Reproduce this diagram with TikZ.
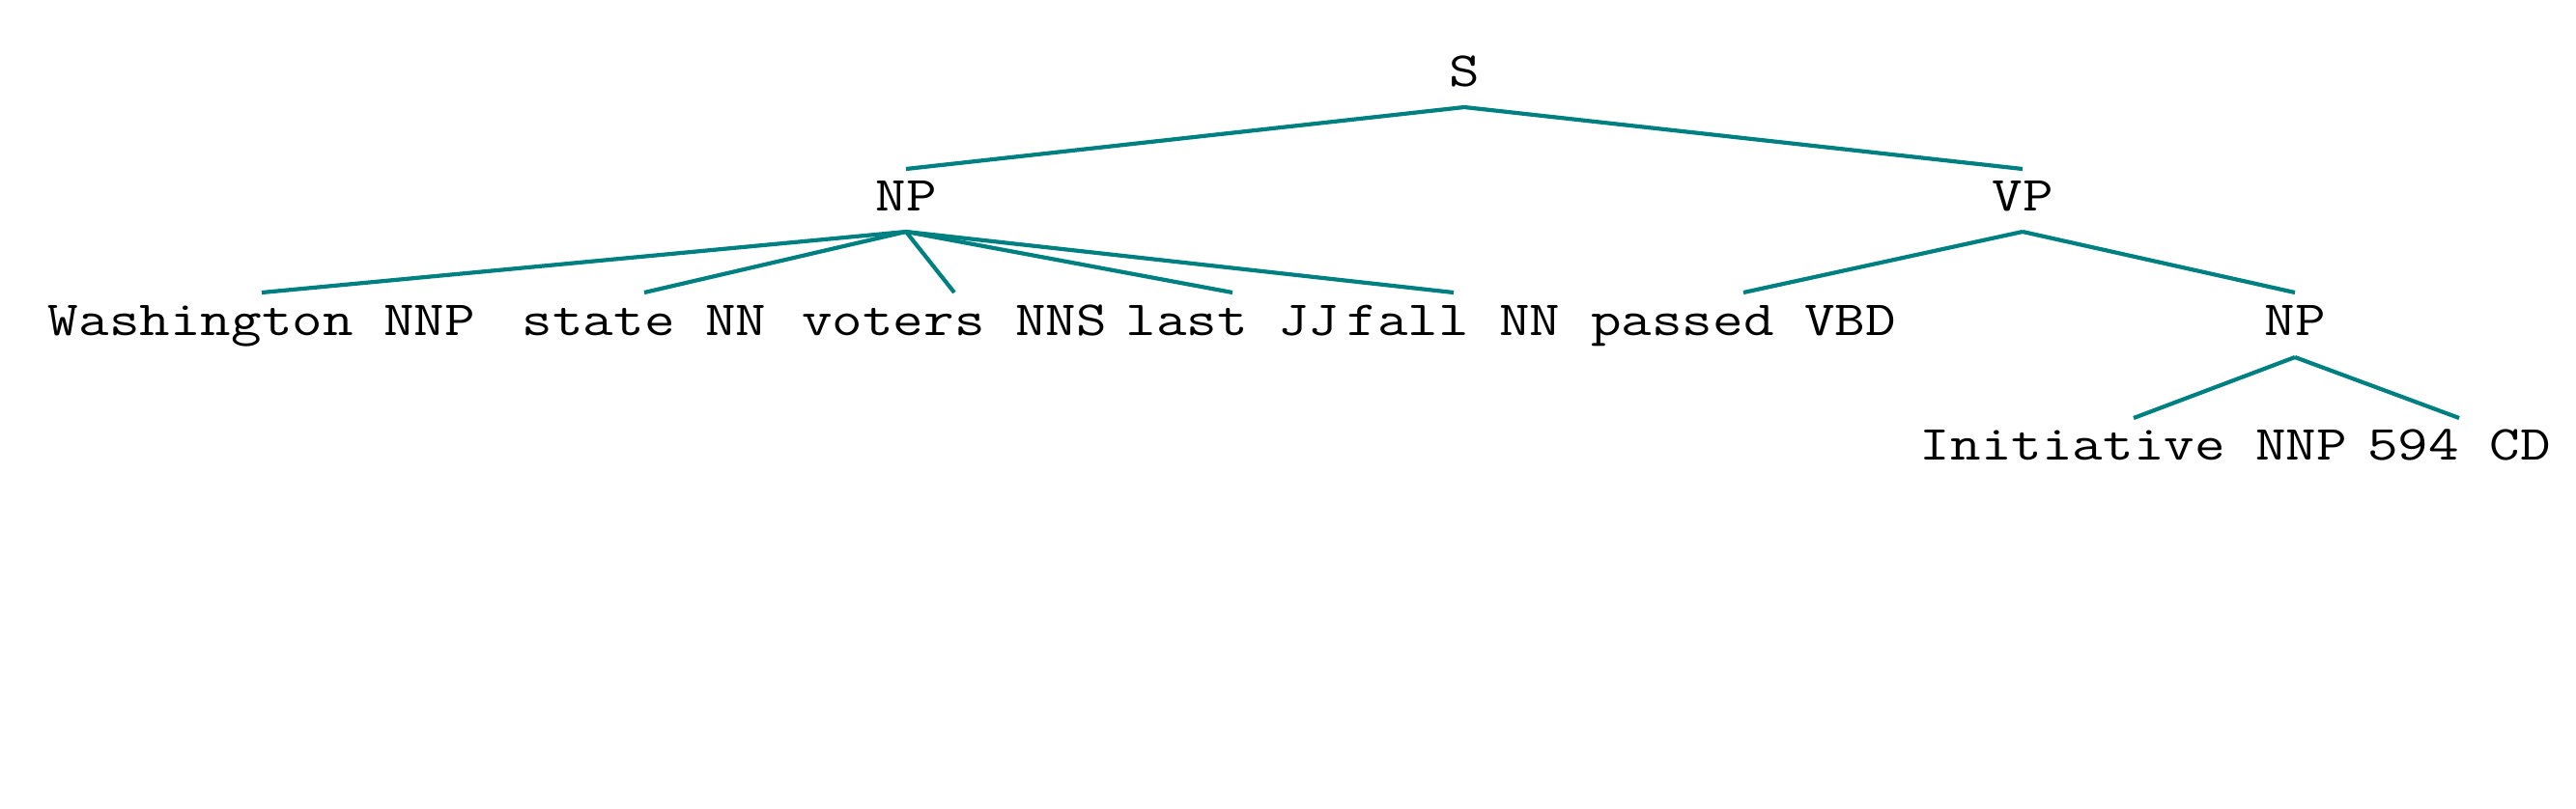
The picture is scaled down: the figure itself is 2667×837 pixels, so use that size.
\documentclass[tikz,border=0pt]{standalone}
\usepackage{fontspec}
\usepackage{graphicx}
\definecolor{edgeteal}{HTML}{008080}
\newcommand\sxlbl[1]{\scalebox{1.207}[1]{#1}}
\tikzset{
  lab/.style={inner sep=0pt, anchor=base, text=black, font=\fontsize{25.4pt}{30pt}\ttfamily},
  edge/.style={draw=edgeteal, line width=2.1pt}
}
\begin{document}
\begin{tikzpicture}[x=0.5pt,y=-0.5pt]
\useasboundingbox (0,0) rectangle (2667,837);
\fill[white] (0,0) rectangle (2667,837);
% row 1
\node[lab] (S) at (1516,89) {\sxlbl{S}};
% row 2
\node[lab] (NPa) at (938,218) {\sxlbl{NP}};
\node[lab] (VP) at (2094,218) {\sxlbl{VP}};
% row 3
\node[lab] (wash) at (271,347) {\sxlbl{Washington NNP}};
\node[lab] (state) at (667,347) {\sxlbl{state NN}};
\node[lab] (voters) at (988,347) {\sxlbl{voters NNS}};
\node[lab] (last) at (1276,347) {\sxlbl{last JJ}};
\node[lab] (fall) at (1505,347) {\sxlbl{fall NN}};
\node[lab] (passed) at (1805,347) {\sxlbl{passed VBD}};
\node[lab] (NPb) at (2376,347) {\sxlbl{NP}};
% row 4
\node[lab] (init) at (2209,476) {\sxlbl{Initiative NNP}};
\node[lab] (num) at (2546,476) {\sxlbl{594 CD}};
% edges
\foreach \c in {NPa,VP}
  \draw[edge] ([yshift=-11pt]S.base) -- ([yshift=21.5pt]\c.base);
\foreach \c in {wash,state,voters,last,fall}
  \draw[edge] ([yshift=-11pt]NPa.base) -- ([yshift=22pt]\c.base);
\foreach \c in {passed,NPb}
  \draw[edge] ([yshift=-11pt]VP.base) -- ([yshift=22pt]\c.base);
\foreach \c in {init,num}
  \draw[edge] ([yshift=-11.5pt]NPb.base) -- ([yshift=21.5pt]\c.base);
\end{tikzpicture}
\end{document}
